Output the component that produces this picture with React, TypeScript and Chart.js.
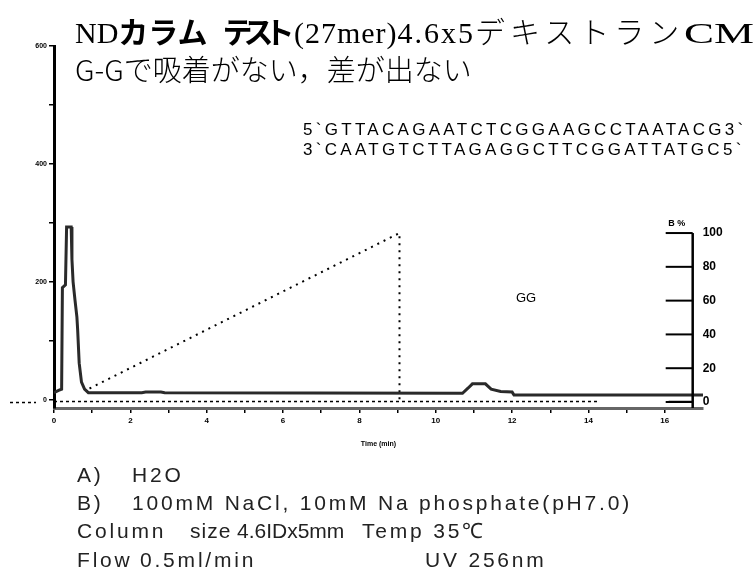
import React, { useEffect, useRef } from "react";
import { Chart, registerables } from "chart.js";

Chart.register(...registerables);

// ---- data ----
const traceTime = [0, 0.12, 0.2, 0.22, 0.3, 0.33, 0.45, 0.47, 0.5, 0.55, 0.6, 0.62, 0.66, 0.72, 0.8, 0.9, 2.3, 2.4, 2.8, 2.9, 10.7, 10.85, 10.96, 11.3, 11.45, 11.7, 12.0, 12.05, 17];
const traceAbs = [12, 16, 18, 190, 195, 293, 293, 238, 200, 169, 140, 118, 62, 30, 18, 12, 12, 13, 13, 12, 11, 20, 27, 27, 18, 14, 13, 8, 8];

const blankTime = [0, 14.3];
const blankAbs = [-3, -3];
const blankTailTime = [16.1, 16.73];
const blankTailAbs = [-3, -3];

const gradientTime = [0.93, 9.05, 9.05];
const gradientB = [8, 100, 0];

const timeTicks = [0, 1, 2, 3, 4, 5, 6, 7, 8, 9, 10, 11, 12, 13, 14, 15, 16];
const absTicks = [0, 100, 200, 300, 400, 500, 600];
const absLabels = ["0", "", "200", "", "400", "", "600"];
const bTicks = [0, 20, 40, 60, 80, 100];
const bAxisTime = 16.73;

const toPoints = (xs: number[], ys: number[]) => xs.map((x, i) => ({ x, y: ys[i] }));

const rightAxisPlugin = {
  id: "rightAxis",
  afterDraw(chart: any) {
    const { ctx, chartArea } = chart;
    const xs = chart.scales.x;
    const y2 = chart.scales.y2;
    const y = chart.scales.y;
    const ax = xs.getPixelForValue(bAxisTime);
    ctx.save();
    ctx.strokeStyle = "#000";
    ctx.lineWidth = 2.5;
    ctx.beginPath();
    ctx.moveTo(ax, y2.getPixelForValue(100));
    ctx.lineTo(ax, chartArea.bottom);
    ctx.stroke();
    ctx.lineWidth = 2;
    ctx.fillStyle = "#000";
    ctx.font = "bold 12px 'Liberation Sans'";
    ctx.textAlign = "left";
    ctx.textBaseline = "middle";
    bTicks.forEach((b) => {
      const py = y2.getPixelForValue(b);
      ctx.beginPath();
      ctx.moveTo(ax - 27, py);
      ctx.lineTo(ax, py);
      ctx.stroke();
      ctx.fillText(String(b), ax + 10, py);
    });
    ctx.font = "bold 9px 'Liberation Sans'";
    ctx.textAlign = "center";
    ctx.fillText("B %", ax - 16, y2.getPixelForValue(100) - 10);
    // dashed baseline extension left of the axis
    const by = y.getPixelForValue(blankAbs[0]);
    ctx.setLineDash([3, 3]);
    ctx.lineWidth = 1.5;
    ctx.beginPath();
    ctx.moveTo(10, by + 1);
    ctx.lineTo(36, by + 1);
    ctx.stroke();
    ctx.restore();
  },
};

export default function App() {
  const ref = useRef<HTMLCanvasElement>(null);
  useEffect(() => {
    const chart = new Chart(ref.current as HTMLCanvasElement, {
      type: "line",
      data: {
        datasets: [
          {
            data: toPoints(traceTime, traceAbs),
            borderColor: "#2a2a2a",
            borderWidth: 3,
            pointRadius: 0,
            tension: 0,
            yAxisID: "y",
          },
          {
            data: toPoints(blankTime, blankAbs),
            borderColor: "#000",
            borderWidth: 1.5,
            borderDash: [3, 3],
            pointRadius: 0,
            yAxisID: "y",
          },
          {
            data: toPoints(blankTailTime, blankTailAbs),
            borderColor: "#000",
            borderWidth: 1.5,
            pointRadius: 0,
            yAxisID: "y",
          },
          {
            data: toPoints(gradientTime, gradientB),
            borderColor: "#000",
            borderWidth: 2,
            borderDash: [2, 5],
            pointRadius: 0,
            yAxisID: "y2",
          },
        ],
      },
      options: {
        responsive: false,
        devicePixelRatio: 1,
        animation: false,
        layout: { padding: { left: 0, top: 46, right: 53, bottom: 135 } },
        plugins: { legend: { display: false }, tooltip: { enabled: false } },
        scales: {
          x: {
            type: "linear",
            position: "bottom",
            min: 0,
            max: 17,
            afterFit: (s: any) => {
              s.height = 40;
            },
            afterBuildTicks: (s: any) => {
              s.ticks = timeTicks.map((v) => ({ value: v }));
            },
            ticks: {
              autoSkip: false,
              maxRotation: 0,
              padding: 3,
              color: "#000",
              font: { size: 8, weight: "bold", family: "'Liberation Sans'" },
              callback: (v: any) => (Number(v) % 2 === 0 ? String(v) : ""),
            },
            grid: { drawOnChartArea: false, drawTicks: true, tickLength: 5, color: "#000", lineWidth: 1.5 },
            border: { color: "#666", width: 3 },
            title: {
              display: true,
              text: "Time (min)",
              color: "#000",
              font: { size: 7, weight: "bold", family: "'Liberation Sans'" },
              padding: { top: 2, bottom: 0 },
            },
          },
          y: {
            type: "linear",
            position: "left",
            min: -14,
            max: 600,
            afterFit: (s: any) => {
              s.width = 54;
            },
            afterBuildTicks: (s: any) => {
              s.ticks = absTicks.map((v) => ({ value: v }));
            },
            ticks: {
              autoSkip: false,
              padding: 2,
              color: "#000",
              font: { size: 7, weight: "bold", family: "'Liberation Sans'" },
              callback: (v: any) => {
                const i = absTicks.indexOf(Number(v));
                return i >= 0 ? absLabels[i] : "";
              },
            },
            grid: { drawOnChartArea: false, drawTicks: true, tickLength: 5, color: "#000", lineWidth: 1.5 },
            border: { color: "#000", width: 3 },
          },
          y2: {
            type: "linear",
            position: "right",
            display: false,
            min: -3.55,
            max: 210.7,
          },
        },
      } as any,
      plugins: [rightAxisPlugin],
    });
    return () => chart.destroy();
  }, []);

  const abs = (left: number, top: number, extra: React.CSSProperties = {}): React.CSSProperties => ({
    position: "absolute",
    left,
    top,
    whiteSpace: "nowrap",
    margin: 0,
    ...extra,
  });
  const note: React.CSSProperties = {
    fontFamily: "'Liberation Sans', Arial, sans-serif",
    fontSize: 21,
    lineHeight: "21px",
    color: "#222",
    letterSpacing: "2.8px",
  };
  const seq: React.CSSProperties = {
    fontFamily: "'Liberation Sans', Arial, sans-serif",
    fontSize: 17,
    lineHeight: "17px",
    color: "#000",
    letterSpacing: "3.3px",
  };
  const cjk = "'Noto Sans CJK JP', sans-serif";

  return (
    <div style={{ position: "absolute", left: 0, top: 0, width: 756, height: 583, background: "#fff", overflow: "hidden" }}>
      <canvas ref={ref} width={756} height={583} style={{ position: "absolute", left: 0, top: 0, width: 756, height: 583 }} />
      <div style={abs(75, 15, { fontFamily: "'Liberation Serif', " + cjk, fontSize: 30, lineHeight: "30px", color: "#000" })}>
        ND<span style={{ fontFamily: cjk, fontWeight: 700 }}>カラム</span>{"\u00a0\u00a0"}
        <span style={{ fontFamily: cjk, fontWeight: 700, letterSpacing: "-9px" }}>テスト</span>
        <span style={{ letterSpacing: "1px" }}>{"\u00a0"}(27mer)</span>
        <span style={{ letterSpacing: "2px" }}>4.6x5</span>
        <span style={{ fontFamily: cjk, fontWeight: 300, letterSpacing: "5px" }}>デキストラン</span>
        <span style={{ display: "inline-block", transform: "scaleX(1.5)", transformOrigin: "left center" }}>CM</span>
      </div>
      <div style={abs(75, 54, { fontFamily: cjk, fontWeight: 300, fontSize: 29, lineHeight: "29px", color: "#000" })}>
        G-Gで吸着がない，差が出ない
      </div>
      <div style={abs(303, 121, seq)}>5`GTTACAGAATCTCGGAAGCCTAATACG3`</div>
      <div style={abs(303, 141, seq)}>3`CAATGTCTTAGAGGCTTCGGATTATGC5`</div>
      <div style={abs(516, 291, { fontFamily: "'Liberation Sans', sans-serif", fontSize: 13, lineHeight: "13px", color: "#000" })}>GG</div>

      <div style={abs(77, 464, note)}>A)</div>
      <div style={abs(132, 464, note)}>H2O</div>
      <div style={abs(77, 492, note)}>B)</div>
      <div style={abs(132, 492, note)}>100mM NaCl, 10mM Na phosphate(pH7.0)</div>
      <div style={abs(77, 520, note)}>Column</div>
      <div style={abs(190, 520, { ...note, letterSpacing: "1px" })}>size</div>
      <div style={abs(237, 520, { ...note, letterSpacing: "0px" })}>4.6IDx5mm</div>
      <div style={abs(362, 520, note)}>Temp 35℃</div>
      <div style={abs(77, 549, note)}>Flow</div>
      <div style={abs(140, 549, note)}>0.5ml/min</div>
      <div style={abs(425, 549, note)}>UV 256nm</div>
    </div>
  );
}
